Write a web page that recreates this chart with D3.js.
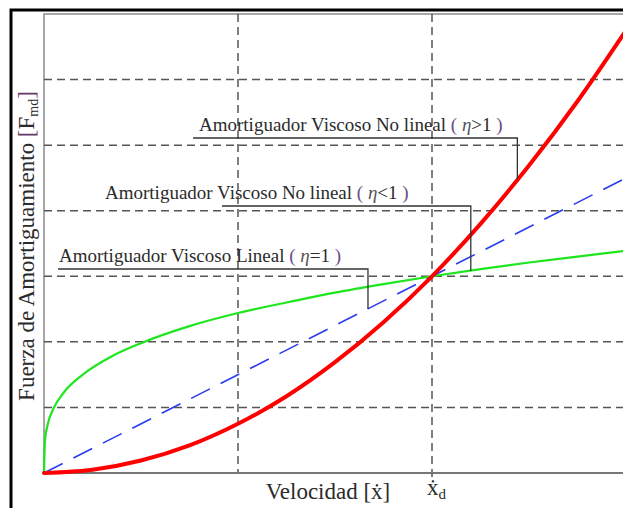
<!DOCTYPE html>
<html>
<head>
<meta charset="utf-8">
<script src="https://cdn.jsdelivr.net/npm/d3@7"></script>
<style>
  body { margin: 0; background: #fff; }
  svg { display: block; }
  .lbl { font-family: "Liberation Serif", "Times New Roman", serif; fill: #2b2b2b; }
</style>
</head>
<body>
<div id="chart"></div>
<script>

// velocity (x) and force (F)
var redX   = [0, 0.25, 0.5, 0.75, 1, 1.25, 1.5, 1.75, 2, 2.25, 2.5, 2.75, 3];
var redF   = [0, 0.05, 0.19, 0.42, 0.75, 1.17, 1.69, 2.30, 3.0, 3.80, 4.69, 5.67, 6.75];

var blueX  = [0, 3];
var blueF  = [0, 4.5];

var greenX = [0, 0.005, 0.02, 0.05, 0.1, 0.2, 0.35, 0.5, 0.75, 1, 1.25, 1.5, 1.75, 2, 2.25, 2.5, 2.75, 3];
var greenF = [0, 0.50, 0.75, 0.99, 1.22, 1.50, 1.78, 1.98, 2.24, 2.44, 2.60, 2.75, 2.88, 3.0, 3.11, 3.21, 3.30, 3.39];

var gridX = [1, 2, 3];
var gridY = [1, 2, 3, 4, 5, 6];

// label text, eta sign, and the point on the curve each leader goes to
var labelNames  = ["Amortiguador Viscoso No lineal ", "Amortiguador Viscoso No lineal ", "Amortiguador Viscoso Lineal "];
var labelSigns  = [">1 ", "<1 ", "=1 "];
var targetX     = [2.44, 2.20, 1.67];
var targetF     = [4.48, 3.08, 2.50];

var W = 623, H = 508;
var pLeft = 44, pTop = 14, pBottom = 473, pRight = 626;

var svg = d3.select("#chart").append("svg")
    .attr("width", W)
    .attr("height", H);

var x = d3.scaleLinear().domain([0, 3]).range([pLeft, pRight]);
var y = d3.scaleLinear().domain([0, 7]).range([pBottom, pTop]);

// outer frame
svg.append("rect")
    .attr("x", 11).attr("y", 10)
    .attr("width", 700).attr("height", 600)
    .attr("fill", "none")
    .attr("stroke", "#000")
    .attr("stroke-width", 3);

// plot box
svg.append("rect")
    .attr("x", pLeft).attr("y", y(7))
    .attr("width", pRight - pLeft).attr("height", pBottom - y(7))
    .attr("fill", "none")
    .attr("stroke", "#8a8a8a")
    .attr("stroke-width", 1.5);

// grid
svg.append("g").selectAll("line")
    .data(gridY)
    .enter().append("line")
    .attr("x1", pLeft).attr("x2", pRight)
    .attr("y1", function (d) { return y(d); })
    .attr("y2", function (d) { return y(d); })
    .attr("stroke", "#555")
    .attr("stroke-width", 1.5)
    .attr("stroke-dasharray", "8,5");

svg.append("g").selectAll("line")
    .data(gridX)
    .enter().append("line")
    .attr("x1", function (d) { return x(d); })
    .attr("x2", function (d) { return x(d); })
    .attr("y1", y(7)).attr("y2", pBottom)
    .attr("stroke", "#555")
    .attr("stroke-width", 1.5)
    .attr("stroke-dasharray", "8,5");

// bottom axis line + tick at x_d
svg.append("line")
    .attr("x1", pLeft).attr("x2", pRight)
    .attr("y1", pBottom).attr("y2", pBottom)
    .attr("stroke", "#777").attr("stroke-width", 2);

svg.append("line")
    .attr("x1", x(2)).attr("x2", x(2))
    .attr("y1", pBottom).attr("y2", pBottom + 4)
    .attr("stroke", "#555").attr("stroke-width", 1.5);

// curves
var line = d3.line()
    .x(function (d) { return x(d[0]); })
    .y(function (d) { return y(d[1]); })
    .curve(d3.curveMonotoneX);

var plot = svg.append("g");

plot.append("path")
    .datum(d3.zip(greenX, greenF))
    .attr("d", line)
    .attr("fill", "none")
    .attr("stroke", "#1ee61e")
    .attr("stroke-width", 2.2);

plot.append("path")
    .datum(d3.zip(blueX, blueF))
    .attr("d", line)
    .attr("fill", "none")
    .attr("stroke", "#2a3cf0")
    .attr("stroke-width", 1.6)
    .attr("stroke-dasharray", "21,12");

plot.append("path")
    .datum(d3.zip(redX, redF))
    .attr("d", line)
    .attr("fill", "none")
    .attr("stroke", "#ff0000")
    .attr("stroke-width", 4)
    .attr("stroke-linecap", "round");

// leaders and labels (pixel layout of the label blocks)
var textX  = [199, 105, 59];
var lineX0 = [193, 222, 58];
var lineY  = [138, 206, 269];

var ann = svg.append("g");

labelNames.forEach(function (name, i) {
    ann.append("path")
        .attr("d", "M" + lineX0[i] + "," + lineY[i] +
                   "H" + x(targetX[i]) +
                   "V" + y(targetF[i]))
        .attr("fill", "none")
        .attr("stroke", "#333")
        .attr("stroke-width", 1.3);

    var t = ann.append("text")
        .attr("class", "lbl")
        .attr("x", textX[i])
        .attr("y", lineY[i] - 7)
        .style("font-size", "19px");
    t.append("tspan").text(name);
    t.append("tspan").text("(").style("fill", "#6a4a8c");
    t.append("tspan").text(" ");
    t.append("tspan").text("η").style("font-style", "italic").style("fill", "#555");
    t.append("tspan").text(labelSigns[i]);
    t.append("tspan").text(")").style("fill", "#6a4a8c");
});

// axis titles
var xt = svg.append("text")
    .attr("class", "lbl")
    .attr("x", 328).attr("y", 499)
    .attr("text-anchor", "middle")
    .style("font-size", "23px");
xt.append("tspan").text("Velocidad [");
xt.append("tspan").text("ẋ");
xt.append("tspan").text("]");

var xd = svg.append("text")
    .attr("class", "lbl")
    .attr("x", x(2) - 5).attr("y", 495)
    .style("font-size", "23px");
xd.append("tspan").text("ẋ");
xd.append("tspan").text("d").attr("dy", 4).style("font-size", "15px");

var yt = svg.append("text")
    .attr("class", "lbl")
    .attr("transform", "translate(34,246) rotate(-90)")
    .attr("text-anchor", "middle")
    .style("font-size", "23px");
yt.append("tspan").text("Fuerza de Amortiguamiento ");
yt.append("tspan").text("[").style("fill", "#6a3a6a");
yt.append("tspan").text("F");
yt.append("tspan").text("md").attr("dy", 4).style("font-size", "14px");
yt.append("tspan").text("]").attr("dy", -4).style("fill", "#6a3a6a");

</script>
</body>
</html>
